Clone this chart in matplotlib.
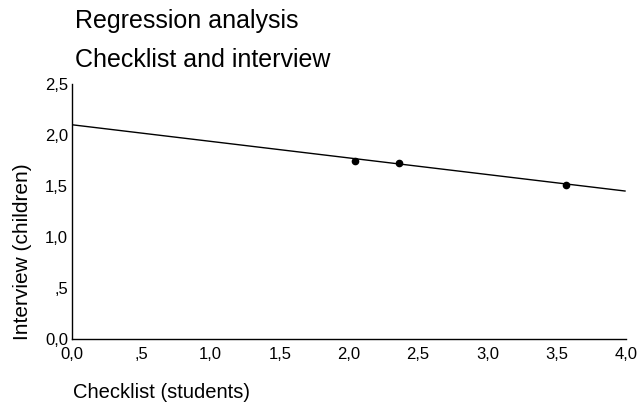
import matplotlib
matplotlib.use("Agg")
import matplotlib.pyplot as plt

plt.rcParams["font.family"] = ["Liberation Sans", "DejaVu Sans"]

# Beobachtete Werte (Checklist vs. Interview)
checklist = [2.04, 2.36, 3.57]
interview = [1.745, 1.73, 1.51]

# Regressionsgerade, Endpunkte
fit_x = [0.0, 4.0]
fit_y = [2.10, 1.45]

x_ticks = [0.0, 0.5, 1.0, 1.5, 2.0, 2.5, 3.0, 3.5, 4.0]
y_ticks = [0.0, 0.5, 1.0, 1.5, 2.0, 2.5]
x_tick_labels = ["0,0", ",5", "1,0", "1,5", "2,0", "2,5", "3,0", "3,5", "4,0"]
y_tick_labels = ["0,0", ",5", "1,0", "1,5", "2,0", "2,5"]

W, H = 641, 405
fig = plt.figure(figsize=(W / 100, H / 100), dpi=100)
ax = fig.add_axes([72.3 / W, 1 - 339 / H, (625.7 - 72.3) / W, (339 - 84) / H])

ax.plot(fit_x, fit_y, color="black", lw=1.0, solid_capstyle="butt")
ax.plot(checklist, interview, ls="none", marker="o", color="black",
        markersize=4.5)

ax.set_xlim(0, 4)
ax.set_ylim(0, 2.5)
ax.set_xticks(x_ticks)
ax.set_xticklabels(x_tick_labels)
ax.set_yticks(y_ticks)
ax.set_yticklabels(y_tick_labels)
ax.tick_params(axis="both", length=0, labelsize=12, colors="black")
ax.tick_params(axis="x", pad=6)
ax.tick_params(axis="y", pad=3)

for side in ("top", "right"):
    ax.spines[side].set_visible(False)
for side in ("left", "bottom"):
    ax.spines[side].set_linewidth(1.0)
    ax.spines[side].set_color("black")

fig.text(75 / W, 1 - 28 / H, "Regression analysis", fontsize=18,
         ha="left", va="baseline")
fig.text(75 / W, 1 - 67 / H, "Checklist and interview", fontsize=18,
         ha="left", va="baseline")
fig.text(73 / W, 1 - 398 / H, "Checklist (students)", fontsize=14.5,
         ha="left", va="baseline")
fig.text(23 / W, 1 - 340 / H, "Interview (children)", fontsize=15,
         rotation=90, ha="center", va="bottom")

fig.savefig("out.png", dpi=100)
